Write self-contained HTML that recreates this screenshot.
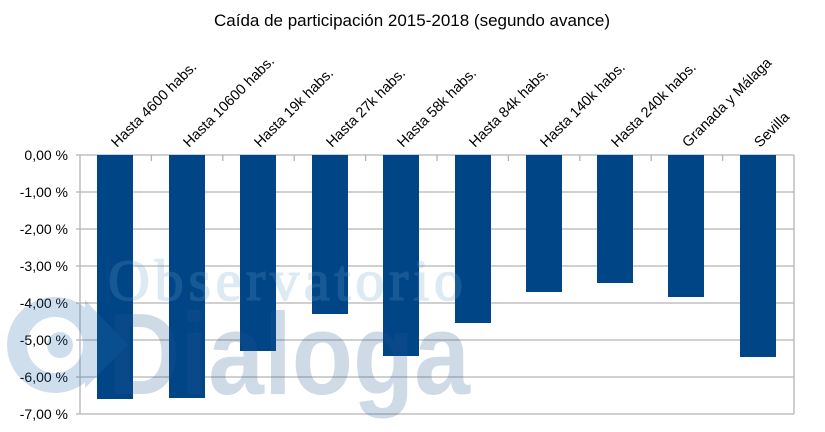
<!DOCTYPE html>
<html><head><meta charset="utf-8"><style>
html,body{margin:0;padding:0;background:#fff}
svg{display:block}
</style></head><body>
<svg width="825" height="432" xmlns="http://www.w3.org/2000/svg" font-family="Liberation Sans, sans-serif">
<rect width="825" height="432" fill="#fff"/>
<text x="412" y="26" font-size="17" text-anchor="middle" fill="#000">Caída de participación 2015-2018 (segundo avance)</text>
<g stroke="#b3b3b3" stroke-width="1.3">
<line x1="76" y1="155" x2="794" y2="155"/>
<line x1="76" y1="192" x2="794" y2="192"/>
<line x1="76" y1="229" x2="794" y2="229"/>
<line x1="76" y1="266" x2="794" y2="266"/>
<line x1="76" y1="303" x2="794" y2="303"/>
<line x1="76" y1="340" x2="794" y2="340"/>
<line x1="76" y1="377" x2="794" y2="377"/>
<line x1="76" y1="414" x2="794" y2="414"/>
<line x1="80" y1="155" x2="80" y2="414"/>
<line x1="794" y1="155" x2="794" y2="414"/>
<line x1="151.4" y1="155" x2="151.4" y2="161"/>
<line x1="222.8" y1="155" x2="222.8" y2="161"/>
<line x1="294.2" y1="155" x2="294.2" y2="161"/>
<line x1="365.6" y1="155" x2="365.6" y2="161"/>
<line x1="437" y1="155" x2="437" y2="161"/>
<line x1="508.4" y1="155" x2="508.4" y2="161"/>
<line x1="579.8" y1="155" x2="579.8" y2="161"/>
<line x1="651.2" y1="155" x2="651.2" y2="161"/>
<line x1="722.6" y1="155" x2="722.6" y2="161"/>
</g>
<g font-size="14" text-anchor="end" fill="#000">
<text x="68" y="160">0,00 %</text>
<text x="68" y="197">-1,00 %</text>
<text x="68" y="234">-2,00 %</text>
<text x="68" y="271">-3,00 %</text>
<text x="68" y="308">-4,00 %</text>
<text x="68" y="345">-5,00 %</text>
<text x="68" y="382">-6,00 %</text>
<text x="68" y="419">-7,00 %</text>
</g>
<g fill="#004586">
<rect x="97" y="155" width="36" height="244"/>
<rect x="169" y="155" width="36" height="243"/>
<rect x="240" y="155" width="36" height="196"/>
<rect x="312" y="155" width="36" height="159"/>
<rect x="383" y="155" width="36" height="201"/>
<rect x="455" y="155" width="36" height="168"/>
<rect x="526" y="155" width="36" height="137"/>
<rect x="597" y="155" width="36" height="128"/>
<rect x="668" y="155" width="36" height="142"/>
<rect x="740" y="155" width="36" height="202"/>
</g>
<g font-size="14.5" fill="#000">
<text transform="translate(117,148) rotate(-45)">Hasta 4600 habs.</text>
<text transform="translate(189,148) rotate(-45)">Hasta 10600 habs.</text>
<text transform="translate(260,148) rotate(-45)">Hasta 19k habs.</text>
<text transform="translate(332,148) rotate(-45)">Hasta 27k habs.</text>
<text transform="translate(403,148) rotate(-45)">Hasta 58k habs.</text>
<text transform="translate(475,148) rotate(-45)">Hasta 84k habs.</text>
<text transform="translate(546,148) rotate(-45)">Hasta 140k habs.</text>
<text transform="translate(617,148) rotate(-45)">Hasta 240k habs.</text>
<text transform="translate(688,148) rotate(-45)">Granada y Málaga</text>
<text transform="translate(760,148) rotate(-45)">Sevilla</text>
</g>
<g opacity="0.22">
<text x="108" y="300" font-family="Liberation Serif, serif" font-size="58" fill="#6a9fcb" stroke="#6a9fcb" stroke-width="1.5" letter-spacing="3" textLength="358">Observatorio</text>
<text x="108" y="394" font-family="Liberation Sans, sans-serif" font-weight="bold" font-size="116" fill="#2a5b95" textLength="362" lengthAdjust="spacingAndGlyphs">Dialoga</text>
<circle cx="55" cy="345" r="38" fill="none" stroke="#2a6fb0" stroke-width="20"/>
<circle cx="60" cy="345" r="13" fill="#2a6fb0"/>
<path d="M85 300 L128 345 L85 388 Z" fill="#2a6fb0"/>
</g>
</svg>
</body></html>
